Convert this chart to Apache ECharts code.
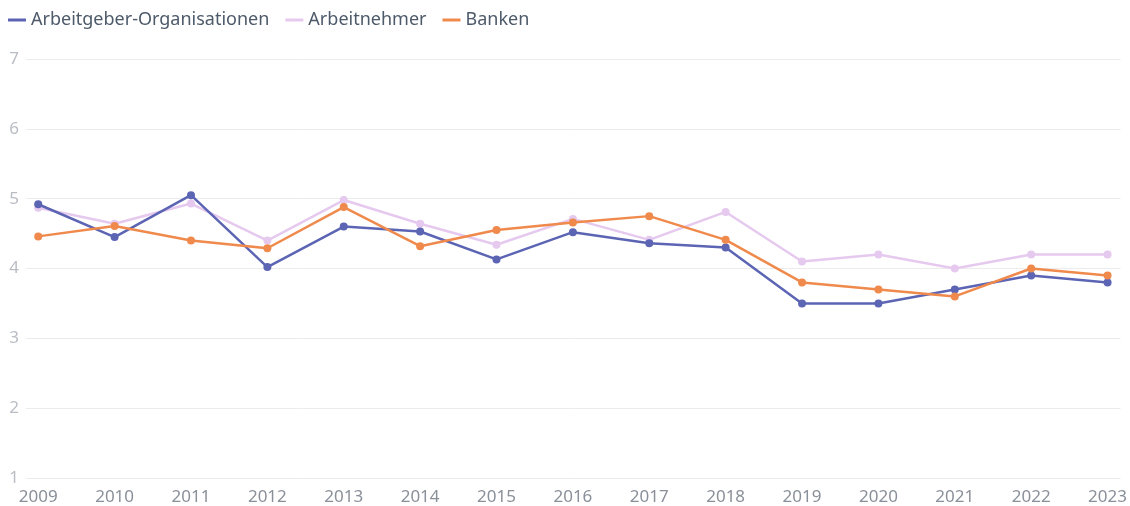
<!DOCTYPE html>
<html>
<head>
<meta charset="utf-8">
<script src="https://cdn.jsdelivr.net/npm/echarts@6/dist/echarts.min.js"></script>
<style>
  html, body { margin: 0; padding: 0; background: #fff; }
  #main { width: 1130px; height: 506px; }
</style>
</head>
<body>
<div id="main"></div>
<script>
var years = [2009, 2010, 2011, 2012, 2013, 2014, 2015, 2016, 2017, 2018, 2019, 2020, 2021, 2022, 2023];
var arbeitgeber = [4.92, 4.45, 5.05, 4.02, 4.6, 4.53, 4.13, 4.52, 4.36, 4.3, 3.5, 3.5, 3.7, 3.9, 3.8];
var arbeitnehmer = [4.87, 4.64, 4.93, 4.4, 4.98, 4.64, 4.34, 4.71, 4.41, 4.81, 4.1, 4.2, 4.0, 4.2, 4.2];
var banken = [4.46, 4.61, 4.4, 4.29, 4.88, 4.32, 4.55, 4.66, 4.75, 4.41, 3.8, 3.7, 3.6, 4.0, 3.9];

function pairs(vals) {
    return vals.map(function (v, i) { return [years[i], v]; });
}

function line(name, color, vals, z) {
    return {
        name: name,
        type: 'line',
        z: z,
        symbol: 'circle',
        symbolSize: 8,
        lineStyle: { color: color, width: 2.5 },
        itemStyle: { color: color },
        data: pairs(vals)
    };
}

var chart = echarts.init(document.getElementById('main'));
chart.setOption({
    animation: false,
    textStyle: { fontFamily: 'Noto Sans' },
    legend: {
        left: 3,
        top: 6,
        icon: 'rect',
        itemWidth: 18,
        itemHeight: 3,
        itemGap: 16,
        textStyle: { color: '#4d5a6a', fontSize: 18, fontFamily: 'Noto Sans' },
        data: ['Arbeitgeber-Organisationen', 'Arbeitnehmer', 'Banken']
    },
    grid: { left: 26, right: 7, top: 59, bottom: 28 },
    xAxis: {
        type: 'value',
        min: 2008.84,
        max: 2023.17,
        axisLine: { show: false },
        axisTick: { show: false },
        splitLine: { show: false },
        axisLabel: {
            customValues: years,
            formatter: function (v) { return String(v); },
            color: '#8a9099',
            fontSize: 17,
            margin: 11
        }
    },
    yAxis: {
        type: 'value',
        min: 1,
        max: 7,
        interval: 1,
        axisLine: { show: false },
        axisTick: { show: false },
        axisLabel: { color: '#b9bdc4', fontSize: 17, margin: 7 },
        splitLine: { lineStyle: { color: '#ececec', width: 1 } }
    },
    series: [
        line('Arbeitgeber-Organisationen', '#5c64b4', arbeitgeber, 3),
        line('Arbeitnehmer', '#e6c9ee', arbeitnehmer, 2),
        line('Banken', '#ef8a4c', banken, 4)
    ]
});
</script>
</body>
</html>
